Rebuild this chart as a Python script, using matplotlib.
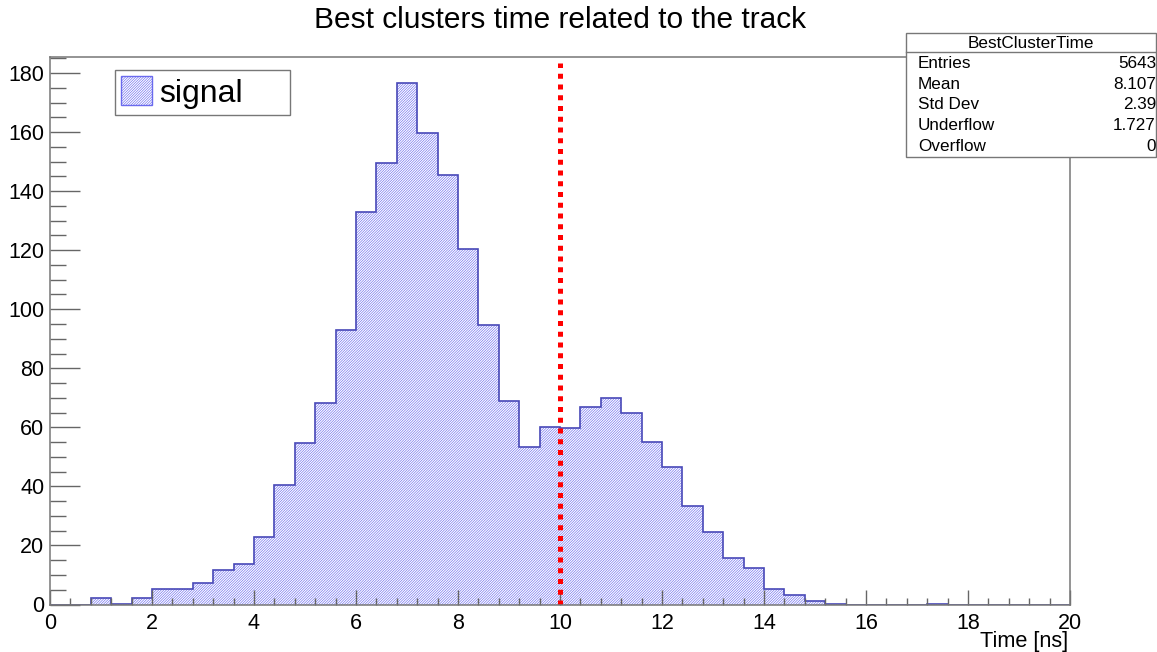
import numpy as np
import matplotlib
matplotlib.use('Agg')
import matplotlib.pyplot as plt
import matplotlib.patches as mpatches
from matplotlib.ticker import MultipleLocator

plt.rcParams['font.family'] = ['Liberation Sans', 'DejaVu Sans']
plt.rcParams['hatch.linewidth'] = 0.45

# histogram: 50 bins from 0 to 20 ns
x_min, x_max, n_bins = 0.0, 20.0, 50
counts = [0, 0, 2.1, 0.3, 2.1, 5.1, 5.1, 7.3, 11.6, 13.6,
          22.9, 40.5, 54.6, 68.2, 93.1, 132.8, 149.5, 176.6, 159.7, 145.6,
          120.3, 94.5, 69.0, 53.2, 60.1, 59.8, 67.0, 70.0, 64.9, 55.0,
          46.5, 33.5, 24.7, 15.8, 12.4, 5.2, 3.2, 1.2, 0.3, 0,
          0, 0, 0, 0.3, 0, 0, 0, 0, 0, 0]
cut_time = 10.0

stat_names = ['Entries', 'Mean', 'Std Dev', 'Underflow', 'Overflow']
stat_values = ['5643', '8.107', '2.39', '1.727', '0']

W, H = 1157, 652
fig = plt.figure(figsize=(W / 100, H / 100), dpi=100)
ax = fig.add_axes([50 / W, 1 - 604.5 / H, (1070 - 50) / W, (604.5 - 57) / H])

edges = np.linspace(x_min, x_max, n_bins + 1)
hatch_col = '#6a6aee'
line_col = '#4848b8'
hatch = '/' * 13
ax.stairs(counts, edges, fill=True, facecolor='none', edgecolor=hatch_col,
          hatch=hatch, linewidth=0)
ax.stairs(counts, edges, color=line_col, linewidth=1.2)

# red cut line
ax.plot([cut_time, cut_time], [0, 183.5], color='red', lw=3.6,
        dashes=(1.0, 1.15))

ax.set_xlim(x_min, x_max)
ax.set_ylim(0, 1.05 * max(counts))
ax.xaxis.set_major_locator(MultipleLocator(2))
ax.xaxis.set_minor_locator(MultipleLocator(0.4))
ax.yaxis.set_major_locator(MultipleLocator(20))
ax.yaxis.set_minor_locator(MultipleLocator(5))

ax.tick_params(which='both', direction='in', top=False, right=False,
               color='#666666', width=1, labelsize=15.5)
ax.tick_params(axis='x', which='major', length=10.6, pad=6)
ax.tick_params(axis='x', which='minor', length=5)
ax.tick_params(axis='y', which='major', length=21.6, pad=4)
ax.tick_params(axis='y', which='minor', length=11.5)
for s in ax.spines.values():
    s.set_color('#777777')
    s.set_linewidth(1.1)

fig.text(560 / W, 1 - 20 / H, 'Best clusters time related to the track',
         ha='center', va='center', fontsize=21.5)
fig.text(1068 / W, 1 - 647 / H, 'Time [ns]', ha='right', va='baseline',
         fontsize=15.7)

# legend
proxy = mpatches.Patch(facecolor='none', edgecolor=hatch_col, hatch=hatch,
                       linewidth=1)
leg = ax.legend([proxy], ['signal'], loc='upper left', mode='expand',
                bbox_to_anchor=(115 / W, 1 - 115 / H, 175 / W, 45 / H),
                bbox_transform=fig.transFigure, fontsize=23,
                frameon=True, fancybox=False, framealpha=1,
                edgecolor='#777777', borderaxespad=0, borderpad=0.2,
                handlelength=0.97, handleheight=1.0, handletextpad=0.2)
leg.get_frame().set_linewidth(1)

# stats box
box = mpatches.Rectangle((906 / W, 1 - 157 / H), (1156 - 906) / W,
                         (157 - 33) / H, transform=fig.transFigure,
                         facecolor='white', edgecolor='#777777', lw=1,
                         zorder=5)
fig.patches.append(box)
fig.add_artist(plt.Line2D([906 / W, 1156 / W], [1 - 52 / H, 1 - 52 / H],
                          transform=fig.transFigure, color='#777777', lw=1,
                          zorder=6))
fig.text(1031 / W, 1 - 43 / H, 'BestClusterTime', ha='center', va='center',
         fontsize=12.3, zorder=7)
for i, (name, val) in enumerate(zip(stat_names, stat_values)):
    y = 1 - (63.5 + 20.7 * i) / H
    fig.text(918 / W, y, name, ha='left', va='center', fontsize=12.3, zorder=7)
    fig.text(1156 / W, y, val, ha='right', va='center', fontsize=12.3, zorder=7)

plt.savefig('out.png', dpi=100)
